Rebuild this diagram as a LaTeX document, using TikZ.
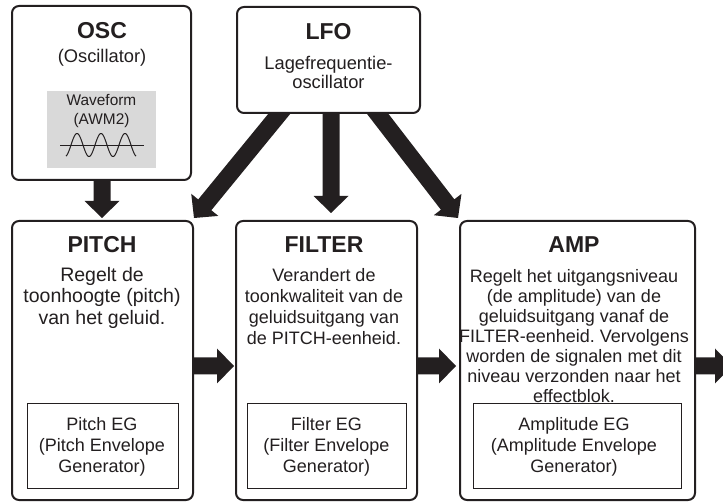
\documentclass[tikz,border=0pt]{standalone}
\usepackage{fontspec}
\setmainfont{Liberation Sans}
\usetikzlibrary{calc,fit}
\definecolor{ink}{HTML}{231F20}
\pgfdeclarelayer{background}
\pgfsetlayers{background,main}
\frenchspacing
\newcommand\blockarr[2]{%
  \coordinate (hb) at ($(#2)!17pt!(#1)$);
  \fill[ink] ($(#1)!8.5pt!90:(#2)$) -- ($(hb)!8.5pt!-90:(#1)$) -- ($(hb)!17.5pt!-90:(#1)$) -- (#2)
    -- ($(hb)!17.5pt!90:(#1)$) -- ($(hb)!8.5pt!90:(#1)$) -- ($(#1)!8.5pt!-90:(#2)$) -- cycle;}
\begin{document}
\begin{tikzpicture}[x=1pt,y=-1pt,
  box/.style={draw=ink, line width=2pt, rounded corners=7pt, fill=white, inner sep=0pt},
  egbox/.style={draw=ink, line width=1pt, fill=white, inner sep=0pt},
  title/.style={text=ink, inner sep=0pt, font=\fontsize{23}{26}\selectfont\bfseries},
  bodyA/.style={text=ink, inner sep=0pt, align=center, font=\fontsize{19.5}{21.5}\selectfont},
  bodyB/.style={text=ink, inner sep=0pt, align=center, font=\fontsize{18}{21}\selectfont},
  bodyC/.style={text=ink, inner sep=0pt, align=center, font=\fontsize{18}{20}\selectfont},
  small/.style={text=ink, inner sep=0pt, align=center, font=\fontsize{18.3}{19}\selectfont},
  wavetxt/.style={text=ink, inner sep=0pt, align=center, font=\fontsize{15.4}{19.5}\selectfont}]
\useasboundingbox (0,0) rectangle (723,502);

% boxes
\node[box, fit={(12,6) (191,180)}] (osc) {};
\node[box, fit={(237,7) (420,113)}] (lfo) {};
\node[box, fit={(12,221) (193,500)}] (pitch) {};
\node[box, fit={(236,221) (417,500)}] (filter) {};
\node[box, fit={(460,221) (695,500)}] (amp) {};

% OSC
\node[title] (osct) at (102,31) {OSC};
\node[small] (oscs) at (102,58) {(Oscillator)};
\node[fill=black!15, inner sep=0pt, fit={(47,91) (156,168)}] (wavebox) {};
\node[wavetxt] (wavet) at (101.5,111) {Waveform\\(AWM2)};
\draw[ink, line width=0.9pt] (60,145) -- (144,145);
\draw[ink, line width=1pt] plot[domain=66:136, samples=120, smooth] (\x, {145 - 11.5*cos((\x-77)*15)});

% LFO
\node[title] (lfot) at (328.5,32) {LFO};
\node[small] (lfos) at (328.5,72) {Lagefrequentie-\\oscillator};

% PITCH
\node[title] (pitcht) at (102,245) {PITCH};
\node[bodyA] (pitchs) at (102,297.5) {Regelt de\\toonhoogte (pitch)\\van het geluid.};
\node[egbox, fit={(27,404) (178,488)}] (pitcheg) {};
\node[bodyB] (pitchegt) at (102,447) {Pitch EG\\(Pitch Envelope\\Generator)};

% FILTER
\node[title] (filtert) at (324,245) {FILTER};
\node[bodyB] (filters) at (324,307) {Verandert de\\toonkwaliteit van de\\geluidsuitgang van\\de PITCH-eenheid.};
\node[egbox, fit={(247,404) (406,488)}] (filtereg) {};
\node[bodyB] (filteregt) at (326.5,447) {Filter EG\\(Filter Envelope\\Generator)};

% AMP
\node[title] (ampt) at (574,245) {AMP};
\node[bodyC] (amps) at (574,336.5) {Regelt het uitgangsniveau\\(de amplitude) van de\\geluidsuitgang vanaf de\\FILTER-eenheid. Vervolgens\\worden de signalen met dit\\niveau verzonden naar het\\effectblok.};
\node[egbox, fit={(473,404) (681,488)}] (ampeg) {};
\node[bodyB] (ampegt) at (574,447) {Amplitude EG\\(Amplitude Envelope\\Generator)};

% arrow end points
\coordinate (a1s) at (102,170);   \coordinate (a1t) at (102,218);
\coordinate (a2s) at (331,100);   \coordinate (a2t) at (331,213);
\coordinate (a3s) at (290.6,100); \coordinate (a3t) at (194,218);
\coordinate (a4s) at (367,100);   \coordinate (a4t) at (458,218);
\coordinate (a5s) at (185,366);   \coordinate (a5t) at (234,366);
\coordinate (a6s) at (410,366);   \coordinate (a6t) at (456,366);
\coordinate (a7s) at (688,366);   \coordinate (a7t) at (732,366);

\begin{pgfonlayer}{background}
  \begin{scope}
    \clip (0,0) rectangle (723,502);
    \blockarr{a1s}{a1t}
    \blockarr{a2s}{a2t}
    \blockarr{a3s}{a3t}
    \blockarr{a4s}{a4t}
    \blockarr{a5s}{a5t}
    \blockarr{a6s}{a6t}
    \blockarr{a7s}{a7t}
  \end{scope}
\end{pgfonlayer}
\end{tikzpicture}
\end{document}
